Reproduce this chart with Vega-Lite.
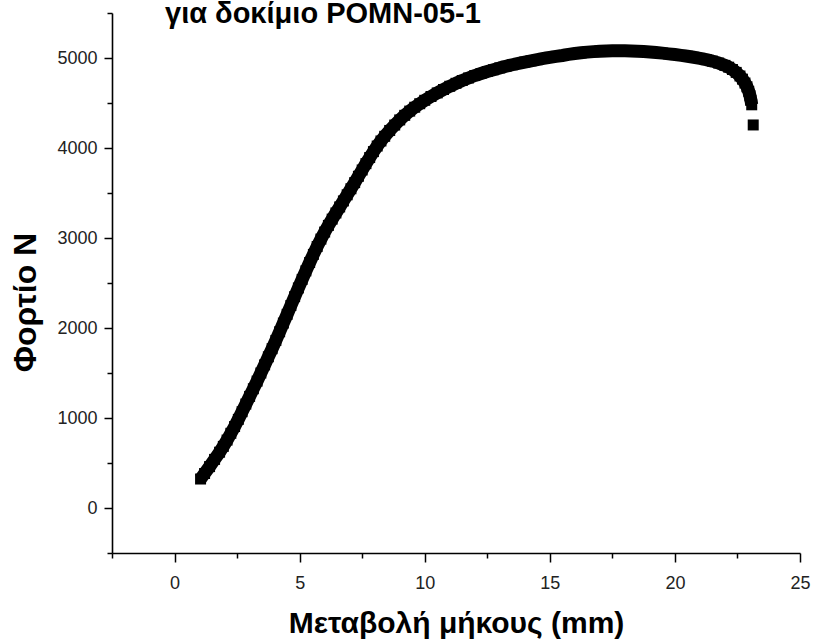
{
  "$schema": "https://vega.github.io/schema/vega-lite/v6.json",
  "width": 688,
  "height": 540,
  "autosize": "none",
  "padding": {"left": 112, "top": 13, "right": 15, "bottom": 91},
  "background": "white",
  "config": {"view": {"stroke": null}, "font": "Liberation Sans"},
  "title": {
    "text": "για δοκίμιο POMN-05-1",
    "anchor": "start",
    "frame": "group",
    "dx": 53,
    "offset": -48,
    "baseline": "alphabetic",
    "font": "Liberation Sans",
    "fontSize": 29,
    "fontWeight": "bold",
    "color": "black"
  },
  "data": {
    "values": [
      {"dL": 1.04, "F": 322}, {"dL": 1.2, "F": 383}, {"dL": 1.4, "F": 460}, {"dL": 1.6, "F": 540},
      {"dL": 1.8, "F": 620}, {"dL": 1.95, "F": 685}, {"dL": 2.1, "F": 755}, {"dL": 2.25, "F": 830},
      {"dL": 2.4, "F": 905}, {"dL": 2.55, "F": 985}, {"dL": 2.7, "F": 1070}, {"dL": 2.85, "F": 1155},
      {"dL": 3.0, "F": 1240}, {"dL": 3.15, "F": 1325}, {"dL": 3.3, "F": 1410}, {"dL": 3.45, "F": 1500},
      {"dL": 3.6, "F": 1590}, {"dL": 3.75, "F": 1680}, {"dL": 3.9, "F": 1770}, {"dL": 4.05, "F": 1862},
      {"dL": 4.2, "F": 1958}, {"dL": 4.35, "F": 2055}, {"dL": 4.5, "F": 2152}, {"dL": 4.65, "F": 2250},
      {"dL": 4.8, "F": 2348}, {"dL": 4.95, "F": 2445}, {"dL": 5.1, "F": 2540}, {"dL": 5.25, "F": 2635},
      {"dL": 5.4, "F": 2728}, {"dL": 5.55, "F": 2818}, {"dL": 5.7, "F": 2905}, {"dL": 5.85, "F": 2988},
      {"dL": 6.0, "F": 3066}, {"dL": 6.15, "F": 3140}, {"dL": 6.3, "F": 3210}, {"dL": 6.45, "F": 3278},
      {"dL": 6.6, "F": 3345}, {"dL": 6.75, "F": 3412}, {"dL": 6.9, "F": 3480}, {"dL": 7.05, "F": 3547},
      {"dL": 7.2, "F": 3615}, {"dL": 7.35, "F": 3686}, {"dL": 7.5, "F": 3756}, {"dL": 7.65, "F": 3826},
      {"dL": 7.8, "F": 3894}, {"dL": 7.95, "F": 3960}, {"dL": 8.1, "F": 4022}, {"dL": 8.25, "F": 4078},
      {"dL": 8.4, "F": 4130}, {"dL": 8.6, "F": 4195}, {"dL": 8.8, "F": 4255}, {"dL": 9.0, "F": 4312},
      {"dL": 9.2, "F": 4363}, {"dL": 9.4, "F": 4410}, {"dL": 9.6, "F": 4453}, {"dL": 9.8, "F": 4492},
      {"dL": 10.0, "F": 4530}, {"dL": 10.25, "F": 4572}, {"dL": 10.5, "F": 4612}, {"dL": 10.75, "F": 4650},
      {"dL": 11.0, "F": 4686}, {"dL": 11.25, "F": 4719}, {"dL": 11.5, "F": 4750}, {"dL": 11.75, "F": 4778},
      {"dL": 12.0, "F": 4805}, {"dL": 12.25, "F": 4828}, {"dL": 12.5, "F": 4850}, {"dL": 12.75, "F": 4870},
      {"dL": 13.0, "F": 4890}, {"dL": 13.25, "F": 4908}, {"dL": 13.5, "F": 4925}, {"dL": 13.75, "F": 4940},
      {"dL": 14.0, "F": 4955}, {"dL": 14.25, "F": 4969}, {"dL": 14.5, "F": 4982}, {"dL": 14.75, "F": 4995},
      {"dL": 15.0, "F": 5007}, {"dL": 15.25, "F": 5018}, {"dL": 15.5, "F": 5028}, {"dL": 15.75, "F": 5040},
      {"dL": 16.0, "F": 5050}, {"dL": 16.25, "F": 5058}, {"dL": 16.5, "F": 5065}, {"dL": 16.75, "F": 5071},
      {"dL": 17.0, "F": 5076}, {"dL": 17.25, "F": 5079}, {"dL": 17.5, "F": 5080}, {"dL": 17.75, "F": 5081},
      {"dL": 18.0, "F": 5080}, {"dL": 18.25, "F": 5079}, {"dL": 18.5, "F": 5076}, {"dL": 18.75, "F": 5072},
      {"dL": 19.0, "F": 5067}, {"dL": 19.25, "F": 5061}, {"dL": 19.5, "F": 5054}, {"dL": 19.75, "F": 5046},
      {"dL": 20.0, "F": 5038}, {"dL": 20.25, "F": 5029}, {"dL": 20.5, "F": 5019}, {"dL": 20.75, "F": 5008},
      {"dL": 21.0, "F": 4996}, {"dL": 21.25, "F": 4982}, {"dL": 21.5, "F": 4965}, {"dL": 21.75, "F": 4944},
      {"dL": 22.0, "F": 4918}, {"dL": 22.15, "F": 4898}, {"dL": 22.3, "F": 4872}, {"dL": 22.45, "F": 4840},
      {"dL": 22.6, "F": 4800}, {"dL": 22.7, "F": 4765}, {"dL": 22.8, "F": 4722}, {"dL": 22.88, "F": 4680},
      {"dL": 22.95, "F": 4630}, {"dL": 23.0, "F": 4580}, {"dL": 23.04, "F": 4530}, {"dL": 23.07, "F": 4480},
      {"dL": 23.13, "F": 4256}
    ]
  },
  "encoding": {
    "x": {
      "field": "dL",
      "type": "quantitative",
      "scale": {"domain": [-2.5, 25], "nice": false, "zero": false},
      "axis": {
        "title": "Μεταβολή μήκους (mm)",
        "values": [-2.5, 0, 2.5, 5, 7.5, 10, 12.5, 15, 17.5, 20, 22.5, 25],
        "labelExpr": "datum.value % 5 === 0 ? datum.label : ''",
        "tickSize": {"condition": {"test": "datum.value % 5 === 0", "value": 9}, "value": 5},
        "grid": false,
        "domainColor": "black",
        "domainWidth": 1.6,
        "tickColor": "black",
        "tickWidth": 1.5,
        "labelFont": "Liberation Sans",
        "labelFontSize": 18,
        "labelColor": "#222222",
        "labelPadding": 12,
        "labelFlush": false,
        "labelOverlap": false,
        "titleFont": "Liberation Sans",
        "titleFontSize": 30,
        "titleFontWeight": "bold",
        "titleColor": "black",
        "titlePadding": 16
      }
    },
    "y": {
      "field": "F",
      "type": "quantitative",
      "scale": {"domain": [-500, 5500], "nice": false, "zero": false},
      "axis": {
        "title": "Φορτίο N",
        "values": [-500, 0, 500, 1000, 1500, 2000, 2500, 3000, 3500, 4000, 4500, 5000, 5500],
        "labelExpr": "datum.value % 1000 === 0 ? datum.label : ''",
        "format": "d",
        "tickSize": {"condition": {"test": "datum.value % 1000 === 0", "value": 8}, "value": 5},
        "grid": false,
        "domainColor": "black",
        "domainWidth": 1.6,
        "tickColor": "black",
        "tickWidth": 1.5,
        "labelFont": "Liberation Sans",
        "labelFontSize": 18,
        "labelColor": "#222222",
        "labelPadding": 7,
        "labelFlush": false,
        "labelOverlap": false,
        "titleFont": "Liberation Sans",
        "titleFontSize": 32,
        "titleFontWeight": "bold",
        "titleColor": "black",
        "titlePadding": 14,
        "titleY": 289
      }
    }
  },
  "layer": [
    {
      "transform": [{"filter": "datum.dL < 23.1"}],
      "mark": {"type": "line", "color": "black", "strokeWidth": 13, "strokeJoin": "round", "strokeCap": "butt"}
    },
    {
      "mark": {"type": "square", "size": 121, "color": "black", "opacity": 1, "filled": true}
    }
  ]
}
